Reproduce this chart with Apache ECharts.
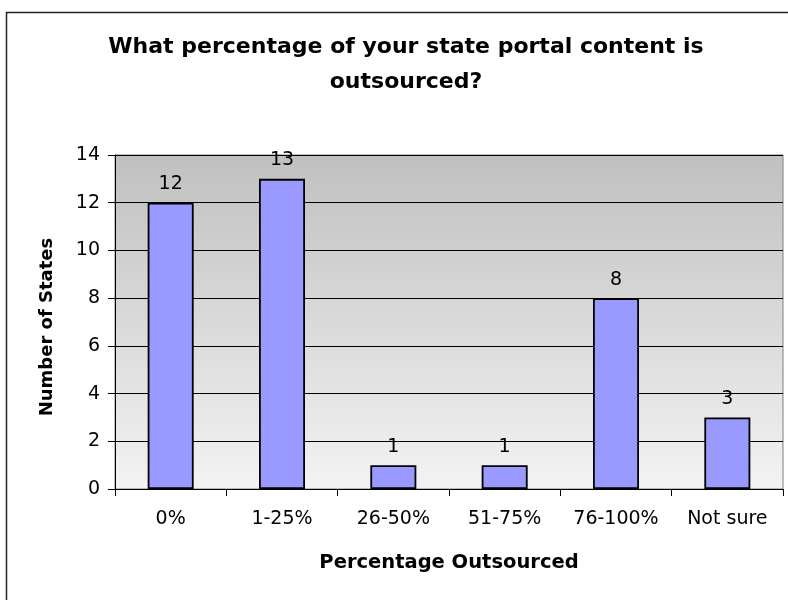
<!DOCTYPE html>
<html>
<head>
<meta charset="utf-8">
<script src="https://cdn.jsdelivr.net/npm/echarts@6/dist/echarts.min.js"></script>
<style>
html,body{margin:0;padding:0;background:#fff;}
#chart{width:788px;height:600px;}
</style>
</head>
<body>
<div id="chart"></div>
<script>
var categories = ['0%', '1-25%', '26-50%', '51-75%', '76-100%', 'Not sure'];
var values = [12, 13, 1, 1, 8, 3];
var titleText = 'What percentage of your state portal content is\noutsourced?';
var xName = 'Percentage Outsourced';
var yName = 'Number of States';

var chart = echarts.init(document.getElementById('chart'), null, {renderer: 'canvas'});
var option = {
  animation: false,
  backgroundColor: '#ffffff',
  textStyle: {fontFamily: 'DejaVu Sans'},
  graphic: [{
    type: 'rect',
    shape: {x: 6.5, y: 12.5, width: 900, height: 700},
    style: {fill: 'none', stroke: '#222', lineWidth: 1.5},
    silent: true,
    z: -1
  }],
  title: {
    text: titleText,
    left: 406,
    top: 30,
    textAlign: 'center',
    padding: 0,
    textStyle: {
      fontFamily: 'DejaVu Sans',
      fontWeight: 'bold',
      fontSize: 22,
      lineHeight: 35,
      color: '#000'
    }
  },
  grid: {
    left: 115, right: 5, top: 155, bottom: 111,
    show: true,
    borderColor: '#808080',
    borderWidth: 1,
    backgroundColor: new echarts.graphic.LinearGradient(0, 0, 0, 1, [
      {offset: 0, color: '#C0C0C0'},
      {offset: 1, color: '#F3F3F3'}
    ])
  },
  xAxis: {
    type: 'category',
    data: categories,
    name: xName,
    nameLocation: 'middle',
    nameGap: 64,
    nameTextStyle: {fontFamily: 'DejaVu Sans', fontWeight: 'bold', fontSize: 19.5, color: '#000'},
    axisLine: {show: true, lineStyle: {color: '#000', width: 1}},
    axisTick: {show: true, length: 7, lineStyle: {color: '#000'}},
    axisLabel: {fontFamily: 'DejaVu Sans', fontSize: 19, color: '#000', margin: 21, interval: 0},
    splitLine: {show: false}
  },
  yAxis: {
    type: 'value',
    min: 0, max: 14, interval: 2,
    name: yName,
    nameLocation: 'middle',
    nameGap: 59,
    nameTextStyle: {fontFamily: 'DejaVu Sans', fontWeight: 'bold', fontSize: 18, color: '#000', padding: [0, 10, 0, 0]},
    axisLine: {show: true, lineStyle: {color: '#000', width: 1}},
    axisTick: {show: true, length: 7, lineStyle: {color: '#000'}},
    axisLabel: {fontFamily: 'DejaVu Sans', fontSize: 19, color: '#000', margin: 15},
    splitLine: {show: true, lineStyle: {color: '#000', width: 1}}
  },
  series: [{
    type: 'bar',
    data: values,
    barWidth: 46,
    itemStyle: {color: '#9999FF', borderColor: '#000', borderWidth: 1.8},
    label: {
      show: true,
      position: 'top',
      distance: 9,
      fontFamily: 'DejaVu Sans',
      fontSize: 19,
      color: '#000'
    }
  }]
};
chart.setOption(option);
</script>
</body>
</html>
